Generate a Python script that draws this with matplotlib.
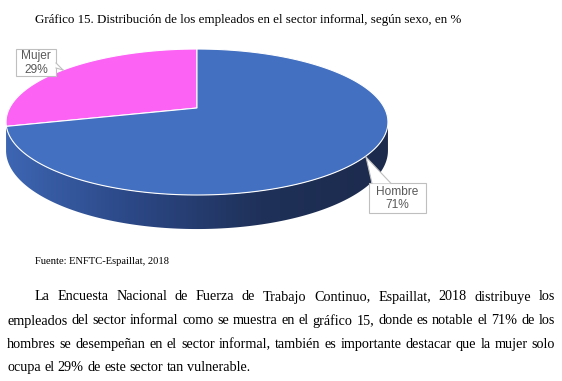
import numpy as np
import matplotlib
matplotlib.use('Agg')
import matplotlib.pyplot as plt
from matplotlib.patches import Polygon, Rectangle
from matplotlib.colors import LinearSegmentedColormap

# data
labels = ['Hombre', 'Mujer']
values = [71, 29]
top_colors = ['#4370C0', '#FC63F5']

title = 'Gráfico 15. Distribución de los empleados en el sector informal, según sexo, en %'
source = 'Fuente: ENFTC-Espaillat, 2018'
para_lines = [
    'La Encuesta Nacional de Fuerza de Trabajo Continuo, Espaillat, 2018 distribuye los',
    'empleados del sector informal como se muestra en el gráfico 15, donde es notable el 71% de los',
    'hombres se desempeñan en el sector informal, también es importante destacar que la mujer solo',
    'ocupa el 29% de este sector tan vulnerable.',
]

# pie geometry (pixel coords)
CX, CY = 197, 108
RX, RY = 187.4, 70.3
PERSP = 0.192
DEPTH = 27.5

W, H = 562, 381
fig = plt.figure(figsize=(W / 100, H / 100), dpi=100)
ax = fig.add_axes([0, 0, 1, 1])
ax.set_xlim(0, W)
ax.set_ylim(H, 0)
ax.axis('off')


def proj(t, drop=0.0):
    '''Project angle t (rad) on pie rim to screen'''
    u, v = np.cos(t), np.sin(t)
    w = 1 + PERSP * v
    return CX + RX * u / w, CY - RY * v / w + drop / w


# side of the pie (front, visible part)
tl = np.pi + np.arcsin(PERSP)
tr = 2 * np.pi - np.arcsin(PERSP)
ts = np.linspace(tl, tr, 200)
xt, yt = proj(ts)
xb, yb = proj(ts[::-1], DEPTH)
side = Polygon(np.column_stack([np.r_[xt, xb], np.r_[yt, yb]]), closed=True,
               facecolor='none', edgecolor='none')
ax.add_patch(side)
cmap = LinearSegmentedColormap.from_list('side', ['#3D66B3', '#2B4785', '#1F3159', '#1C2A4C'])
grad = np.linspace(0, 1, 256)[None, :]
im = ax.imshow(grad, cmap=cmap, extent=[5, 390, 240, 100], aspect='auto', zorder=1)
im.set_clip_path(side)

# top face wedges
fracs = np.array(values) / float(sum(values))
start = np.pi / 2
# Mujer goes counterclockwise from top, Hombre takes the rest
order = [1, 0]
a0 = start
for i in order:
    a1 = a0 + fracs[i] * 2 * np.pi
    tt = np.linspace(a0, a1, 200)
    x, y = proj(tt)
    pts = np.column_stack([np.r_[CX, x], np.r_[CY, y]])
    ax.add_patch(Polygon(pts, closed=True, facecolor=top_colors[i],
                         edgecolor='white', linewidth=0.8, zorder=2))
    a0 = a1


def callout(x0, y0, w, h, tip, base, text):
    '''Label box with pointer'''
    ax.add_patch(Rectangle((x0, y0), w, h, facecolor='white', edgecolor='#BFBFBF',
                           linewidth=0.8, zorder=3))
    tri = np.array([base[0], tip, base[1]])
    ax.add_patch(Polygon(tri, closed=True, facecolor='white', edgecolor='none', zorder=4))
    ax.plot(tri[:2, 0], tri[:2, 1], color='#BFBFBF', lw=0.8, zorder=5)
    ax.plot(tri[1:, 0], tri[1:, 1], color='#BFBFBF', lw=0.8, zorder=5)
    ax.text(x0 + w / 2, y0 + h / 2 + 0.5, text, ha='center', va='center',
            family='Liberation Sans', fontsize=8.6, color='#595959',
            linespacing=1.2, zorder=6)


callout(16, 49, 40, 27, (63, 70), [(56, 63), (56, 68)],
        '%s\n%d%%' % (labels[1], values[1]))
callout(369, 183, 57, 30, (366, 157), [(372, 183.4), (391, 183.4)],
        '%s\n%d%%' % (labels[0], values[0]))

# texts
ax.text(35, 23, title, family='Liberation Serif', fontsize=9.4, va='baseline', ha='left')
ax.text(35, 264.5, source, family='Liberation Serif', fontsize=7.6, va='baseline', ha='left')

renderer = fig.canvas.get_renderer()
PFS = 10.2
line_y = [300.5, 324.5, 348, 371]
line_x0 = [35, 7, 7, 7]
X1 = 555
space = ax.text(0, 0, 'a a', family='Liberation Serif', fontsize=PFS).get_window_extent(renderer).width \
    - 2 * ax.text(0, 0, 'a', family='Liberation Serif', fontsize=PFS).get_window_extent(renderer).width
for t in ax.texts[-2:]:
    t.remove()
for k, line in enumerate(para_lines):
    words = line.split(' ')
    objs = [ax.text(0, line_y[k], wd, family='Liberation Serif', fontsize=PFS,
                    va='baseline', ha='left') for wd in words]
    widths = [o.get_window_extent(renderer).width for o in objs]
    if k < len(para_lines) - 1:
        gap = (X1 - line_x0[k] - sum(widths)) / (len(words) - 1)
    else:
        gap = space
    x = line_x0[k]
    for o, wdt in zip(objs, widths):
        o.set_x(x)
        x += wdt + gap

fig.savefig('out.png', dpi=100, facecolor='white')
